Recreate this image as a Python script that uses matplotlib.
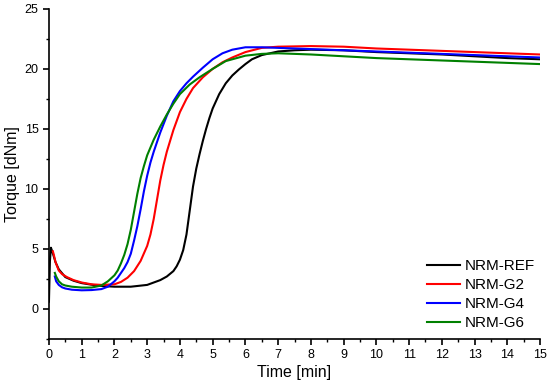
import matplotlib
matplotlib.use("Agg")
import matplotlib.pyplot as plt
from matplotlib.ticker import MultipleLocator

plt.rcParams['font.family'] = ['Liberation Sans', 'DejaVu Sans']

labels = ["NRM-REF", "NRM-G2", "NRM-G4", "NRM-G6"]
colors = ["black", "red", "blue", "green"]

t_ref = [0, 0.03, 0.06, 0.1, 0.2, 0.3, 0.5, 0.75, 1.0, 1.5, 2.0, 2.5, 3.0, 3.4, 3.6, 3.8,
         3.9, 4.0, 4.1, 4.2, 4.3, 4.4, 4.5, 4.6, 4.7, 4.8, 4.9, 5.0, 5.2, 5.4, 5.6, 5.8,
         6.0, 6.2, 6.5, 7.0, 7.5, 8, 9, 10, 11, 12, 13, 14, 15]
v_ref = [0.6, 4.0, 5.1, 4.8, 3.9, 3.3, 2.65, 2.35, 2.15, 1.93, 1.85, 1.85, 2.0, 2.4, 2.7, 3.15,
         3.55, 4.1, 4.9, 6.2, 8.2, 10.2, 11.7, 12.9, 14.0, 15.0, 15.9, 16.7, 17.9, 18.8, 19.45, 19.95,
         20.4, 20.8, 21.15, 21.45, 21.55, 21.6, 21.55, 21.4, 21.3, 21.2, 21.05, 20.9, 20.8]

t_g2 = [0.12, 0.15, 0.2, 0.3, 0.4, 0.55, 0.75, 1.0, 1.3, 1.6, 2.0, 2.2, 2.4, 2.6, 2.8, 3.0,
        3.1, 3.2, 3.3, 3.4, 3.5, 3.6, 3.7, 3.8, 4.0, 4.2, 4.4, 4.7, 5.0, 5.3, 5.6, 6.0,
        6.5, 7.0, 8.0, 9, 10, 11, 12, 13, 14, 15]
v_g2 = [4.8, 4.5, 3.9, 3.2, 2.9, 2.65, 2.4, 2.2, 2.05, 2.0, 2.05, 2.25, 2.6, 3.15, 4.0, 5.25,
        6.2, 7.5, 9.1, 10.7, 12.0, 13.1, 14.0, 14.9, 16.4, 17.5, 18.4, 19.3, 20.0, 20.55, 20.95, 21.4,
        21.75, 21.85, 21.9, 21.85, 21.7, 21.6, 21.5, 21.4, 21.3, 21.2]

t_g4 = [0.18, 0.22, 0.3, 0.4, 0.5, 0.7, 1.0, 1.3, 1.6, 1.8, 2.0, 2.1, 2.2, 2.3, 2.4, 2.5,
        2.6, 2.7, 2.8, 2.9, 3.0, 3.1, 3.2, 3.3, 3.4, 3.5, 3.6, 3.8, 4.0, 4.2, 4.4, 4.7,
        5.0, 5.3, 5.6, 6.0, 6.5, 7, 8, 9, 10, 11, 12, 13, 14, 15]
v_g4 = [2.7, 2.3, 2.0, 1.8, 1.7, 1.6, 1.55, 1.57, 1.65, 1.85, 2.3, 2.6, 3.0, 3.4, 3.9, 4.6,
        5.7, 6.9, 8.3, 9.8, 11.1, 12.2, 13.1, 13.9, 14.7, 15.4, 16.1, 17.3, 18.15, 18.8, 19.35, 20.1,
        20.8, 21.3, 21.6, 21.8, 21.8, 21.75, 21.65, 21.55, 21.45, 21.35, 21.25, 21.15, 21.05, 20.95]

t_g6 = [0.18, 0.22, 0.3, 0.4, 0.5, 0.7, 1.0, 1.3, 1.6, 1.8, 1.9, 2.0, 2.1, 2.2, 2.3, 2.4,
        2.5, 2.6, 2.7, 2.8, 2.9, 3.0, 3.2, 3.4, 3.6, 3.8, 4.0, 4.3, 4.6, 5.0, 5.4, 6.0,
        6.5, 7, 8, 9, 10, 11, 12, 13, 14, 15]
v_g6 = [3.0, 2.7, 2.3, 2.05, 1.95, 1.85, 1.78, 1.78, 1.95, 2.3, 2.55, 2.8, 3.2, 3.8, 4.5, 5.4,
        6.6, 8.1, 9.6, 10.9, 11.9, 12.8, 14.1, 15.2, 16.2, 17.1, 17.9, 18.7, 19.3, 20.0, 20.65, 21.1,
        21.25, 21.3, 21.2, 21.05, 20.9, 20.8, 20.7, 20.6, 20.5, 20.4]

xticks = list(range(0, 16))
yticks = [0, 5, 10, 15, 20, 25]

fig = plt.figure(figsize=(5.5, 3.86), dpi=100)
ax = fig.add_axes([0.089, 0.122, 0.893, 0.855])

series = [(t_ref, v_ref), (t_g2, v_g2), (t_g4, v_g4), (t_g6, v_g6)]
for (t, v), lab, c in zip(series, labels, colors):
    ax.plot(t, v, color=c, lw=1.5, label=lab)

ax.set_xlim(0, 15)
ax.set_ylim(-2.5, 25)
ax.set_xticks(xticks)
ax.set_yticks(yticks)
ax.xaxis.set_minor_locator(MultipleLocator(0.5))
ax.yaxis.set_minor_locator(MultipleLocator(2.5))
for s in ["top", "right"]:
    ax.spines[s].set_visible(False)
for s in ["left", "bottom"]:
    ax.spines[s].set_linewidth(1.2)
ax.tick_params(which="major", direction="out", length=4, width=1.2, labelsize=9)
ax.tick_params(which="minor", direction="out", length=2.5, width=1.0)
ax.set_xlabel("Time [min]", fontsize=11.5, labelpad=3)
ax.set_ylabel("Torque [dNm]", fontsize=11.5, labelpad=3)

ax.legend(loc="lower right", bbox_to_anchor=(1.018, -0.015), frameon=False, fontsize=11,
          handlelength=2.2, handletextpad=0.3, labelspacing=0.33)

fig.savefig("out.png", dpi=100)
